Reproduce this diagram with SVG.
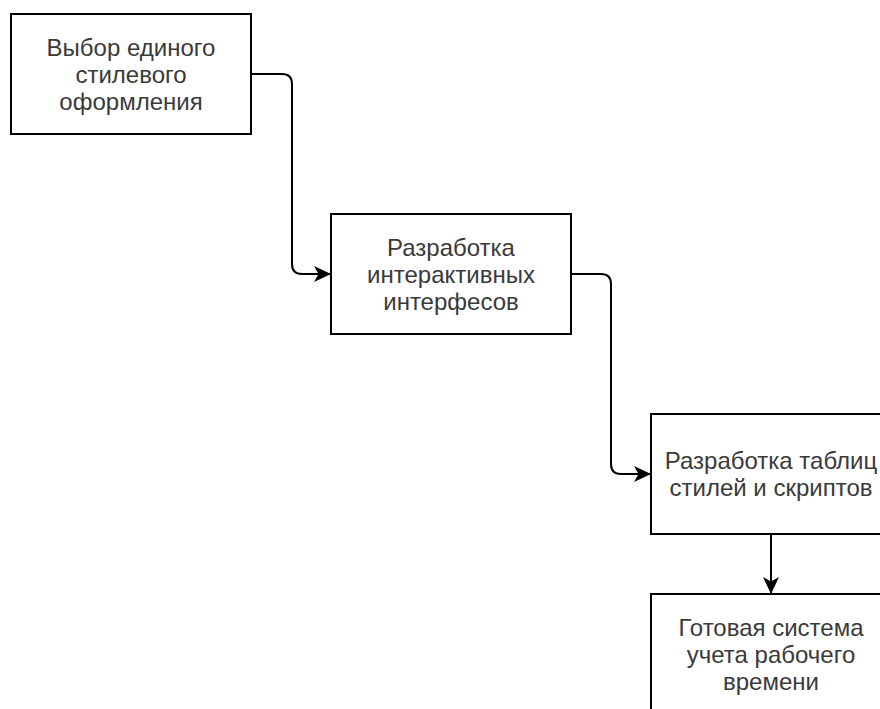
<svg xmlns="http://www.w3.org/2000/svg" width="880" height="709" viewBox="0 0 880 709">
<style>
.box{fill:#fff;stroke:#000;stroke-width:2}
.lbl{font-family:"Liberation Sans",Arial,sans-serif;font-size:24px;fill:#3a3a3a;text-anchor:middle}
.edge{fill:none;stroke:#000;stroke-width:2}
</style>
<defs>
<marker id="arr" viewBox="0 0 17 16" refX="16" refY="8" markerWidth="17" markerHeight="16" markerUnits="userSpaceOnUse" orient="auto">
<path d="M17,8 L0,0 L4.5,8 L0,16 Z" fill="#000"/>
</marker>
</defs>
<rect width="880" height="709" fill="#fff"/>
<g id="connectors">
<path class="edge" d="M251,74 H282 Q292,74 292,84 V264 Q292,274 302,274 H330" marker-end="url(#arr)"/>
<path class="edge" d="M571,274 H601 Q611,274 611,284 V464 Q611,474 621,474 H650" marker-end="url(#arr)"/>
<path class="edge" d="M771,534 V593" marker-end="url(#arr)"/>
</g>
<g id="n1">
<rect class="box" x="11" y="14" width="240" height="120"/>
<text class="lbl"><tspan x="131" y="56">Выбор единого</tspan><tspan x="131" y="83">стилевого</tspan><tspan x="131" y="110">оформления</tspan></text>
</g>
<g id="n2">
<rect class="box" x="331" y="214" width="240" height="120"/>
<text class="lbl"><tspan x="451" y="256">Разработка</tspan><tspan x="451" y="283">интерактивных</tspan><tspan x="451" y="310">интерфесов</tspan></text>
</g>
<g id="n3">
<rect class="box" x="651" y="414" width="240" height="120"/>
<text class="lbl"><tspan x="771" y="469">Разработка таблиц</tspan><tspan x="771" y="496">стилей и скриптов</tspan></text>
</g>
<g id="n4">
<rect class="box" x="651" y="594" width="240" height="120"/>
<text class="lbl"><tspan x="771" y="636">Готовая система</tspan><tspan x="771" y="663">учета рабочего</tspan><tspan x="771" y="690">времени</tspan></text>
</g>
</svg>
